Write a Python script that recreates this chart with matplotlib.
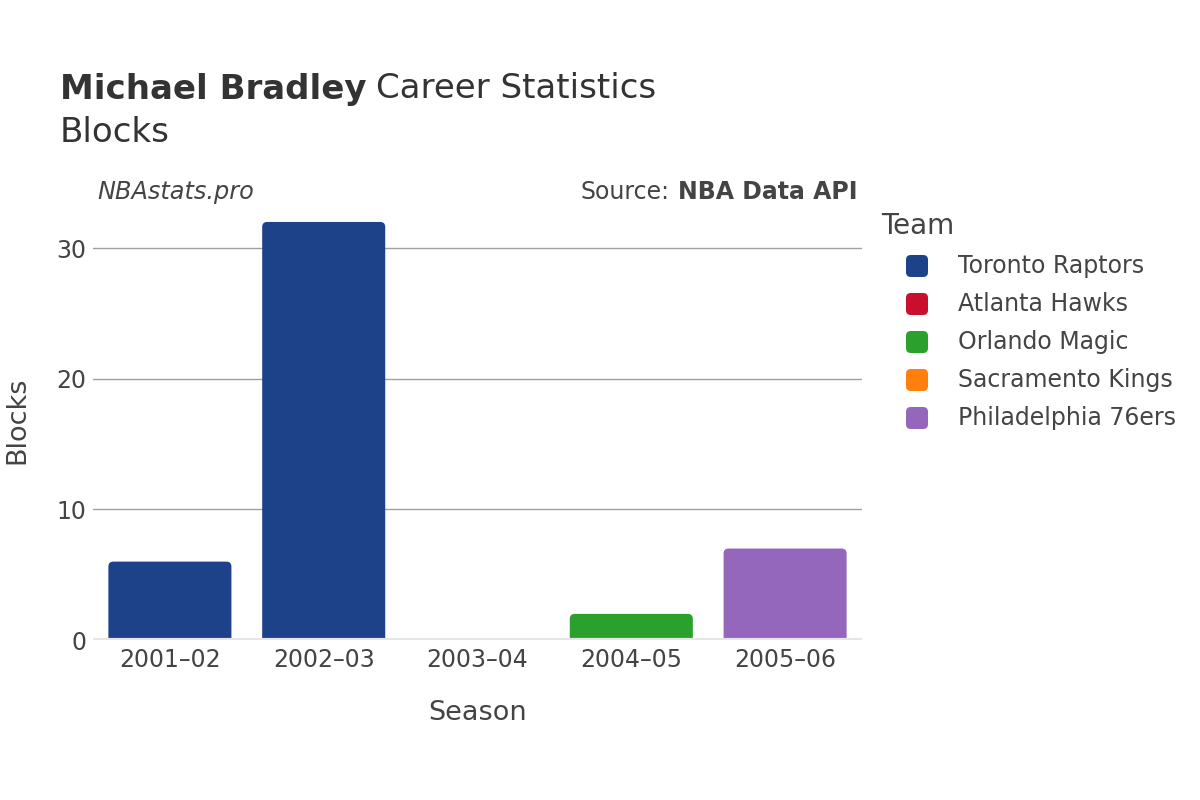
import matplotlib
matplotlib.use("Agg")
import matplotlib.pyplot as plt
from matplotlib.patches import FancyBboxPatch
import numpy as np

seasons = ['2001–02', '2002–03', '2003–04', '2004–05', '2005–06']
bar_seasons = ['2001–02', '2002–03', '2003–04', '2003–04', '2004–05', '2005–06']
bar_teams = ['Toronto Raptors', 'Toronto Raptors', 'Atlanta Hawks', 'Sacramento Kings',
             'Orlando Magic', 'Philadelphia 76ers']
bar_values = [6, 32, 0, 0, 2, 7]
teams = ['Toronto Raptors', 'Atlanta Hawks', 'Orlando Magic', 'Sacramento Kings', 'Philadelphia 76ers']
team_colors = ['#1d428a', '#c8102e', '#2ca02c', '#ff7f0e', '#9467bd']
yticks = [0, 10, 20, 30]

plt.rcParams['font.family'] = ['DejaVu Sans']
TXT = '#444444'

fig = plt.figure(figsize=(12, 8), dpi=100)
ax = fig.add_axes([93/1200, 0.2, (862-93)/1200, 0.55])

xpos = {s: i for i, s in enumerate(seasons)}
cmap = dict(zip(teams, team_colors))
bottoms = {s: 0.0 for s in seasons}
bw = 0.8
rx = 5 / 153.8
ry = 5 / 13.07
for s, t, v in zip(bar_seasons, bar_teams, bar_values):
    x = xpos[s]
    b = bottoms[s]
    bars = ax.bar(x, v, width=bw, bottom=b, color=cmap[t])
    for p in bars.patches:
        p.set_visible(False)
        if v <= 0:
            continue
        x0 = p.get_x()
        y0 = p.get_y()
        w = p.get_width()
        h = p.get_height()
        fb = FancyBboxPatch((x0, y0 - ry), w, h + ry,
                            boxstyle=f"round,pad=0,rounding_size={rx}",
                            mutation_aspect=ry / rx,
                            facecolor=cmap[t], edgecolor='none', zorder=3)
        ax.add_patch(fb)
    bottoms[s] = b + v

ax.set_xlim(-0.5, len(seasons) - 0.5)
ax.set_ylim(0, 33.68)
ax.set_xticks(range(len(seasons)))
ax.set_xticklabels(seasons)
ax.set_yticks(yticks)
ax.tick_params(axis='both', length=0, labelsize=17, labelcolor=TXT)
ax.tick_params(axis='x', pad=6)
ax.tick_params(axis='y', pad=5)
for sp in ax.spines.values():
    sp.set_visible(False)
for yv in yticks[1:]:
    ax.axhline(yv, color='#a0a0a0', lw=1, zorder=1)
ax.axhline(0, color='#e6e6e6', lw=3, zorder=4)

ax.set_xlabel('Season', fontsize=19.5, color=TXT, labelpad=20)
ax.set_ylabel('Blocks', fontsize=19.5, color=TXT)
ax.yaxis.set_label_coords(17/1200, 1-420/800, transform=fig.transFigure)
ax.yaxis.label.set_verticalalignment('center')

fig.canvas.draw()
r = fig.canvas.get_renderer()

# titles
t1 = fig.text(60/1200, 1-89/800, 'Michael Bradley', fontsize=24.5, fontweight='bold',
              color='#333333', va='center', ha='left')
bb = t1.get_window_extent(renderer=r)
fig.text((bb.x1 + 9)/1200, 1-89/800, 'Career Statistics', fontsize=24.5,
         color='#333333', va='center', ha='left')
fig.text(60/1200, 1-133/800, 'Blocks', fontsize=24.5, color='#333333', va='center', ha='left')
fig.text(97/1200, 1-192/800, 'NBAstats.pro', fontsize=17.3, style='italic', color=TXT,
         va='center', ha='left')
t2 = fig.text(858/1200, 1-192/800, 'NBA Data API', fontsize=17, fontweight='bold', color=TXT,
              va='center', ha='right')
bb2 = t2.get_window_extent(renderer=r)
fig.text((bb2.x0 - 9)/1200, 1-192/800, 'Source:', fontsize=17, color=TXT, va='center', ha='right')

# legend
fig.text(881/1200, 1-226/800, 'Team', fontsize=20, color=TXT, va='center', ha='left')
for i, (t, c) in enumerate(zip(teams, team_colors)):
    yc = 266 + 38 * i
    sq = FancyBboxPatch(((906)/1200, 1-(yc+11)/800), 22/1200, 22/800,
                        boxstyle="round,pad=0,rounding_size=0.004",
                        mutation_aspect=1.5,
                        transform=fig.transFigure, facecolor=c, edgecolor='none')
    fig.add_artist(sq)
    fig.text(958/1200, 1-yc/800, t, fontsize=17, color=TXT, va='center', ha='left')

fig.savefig('out.png', dpi=100)
